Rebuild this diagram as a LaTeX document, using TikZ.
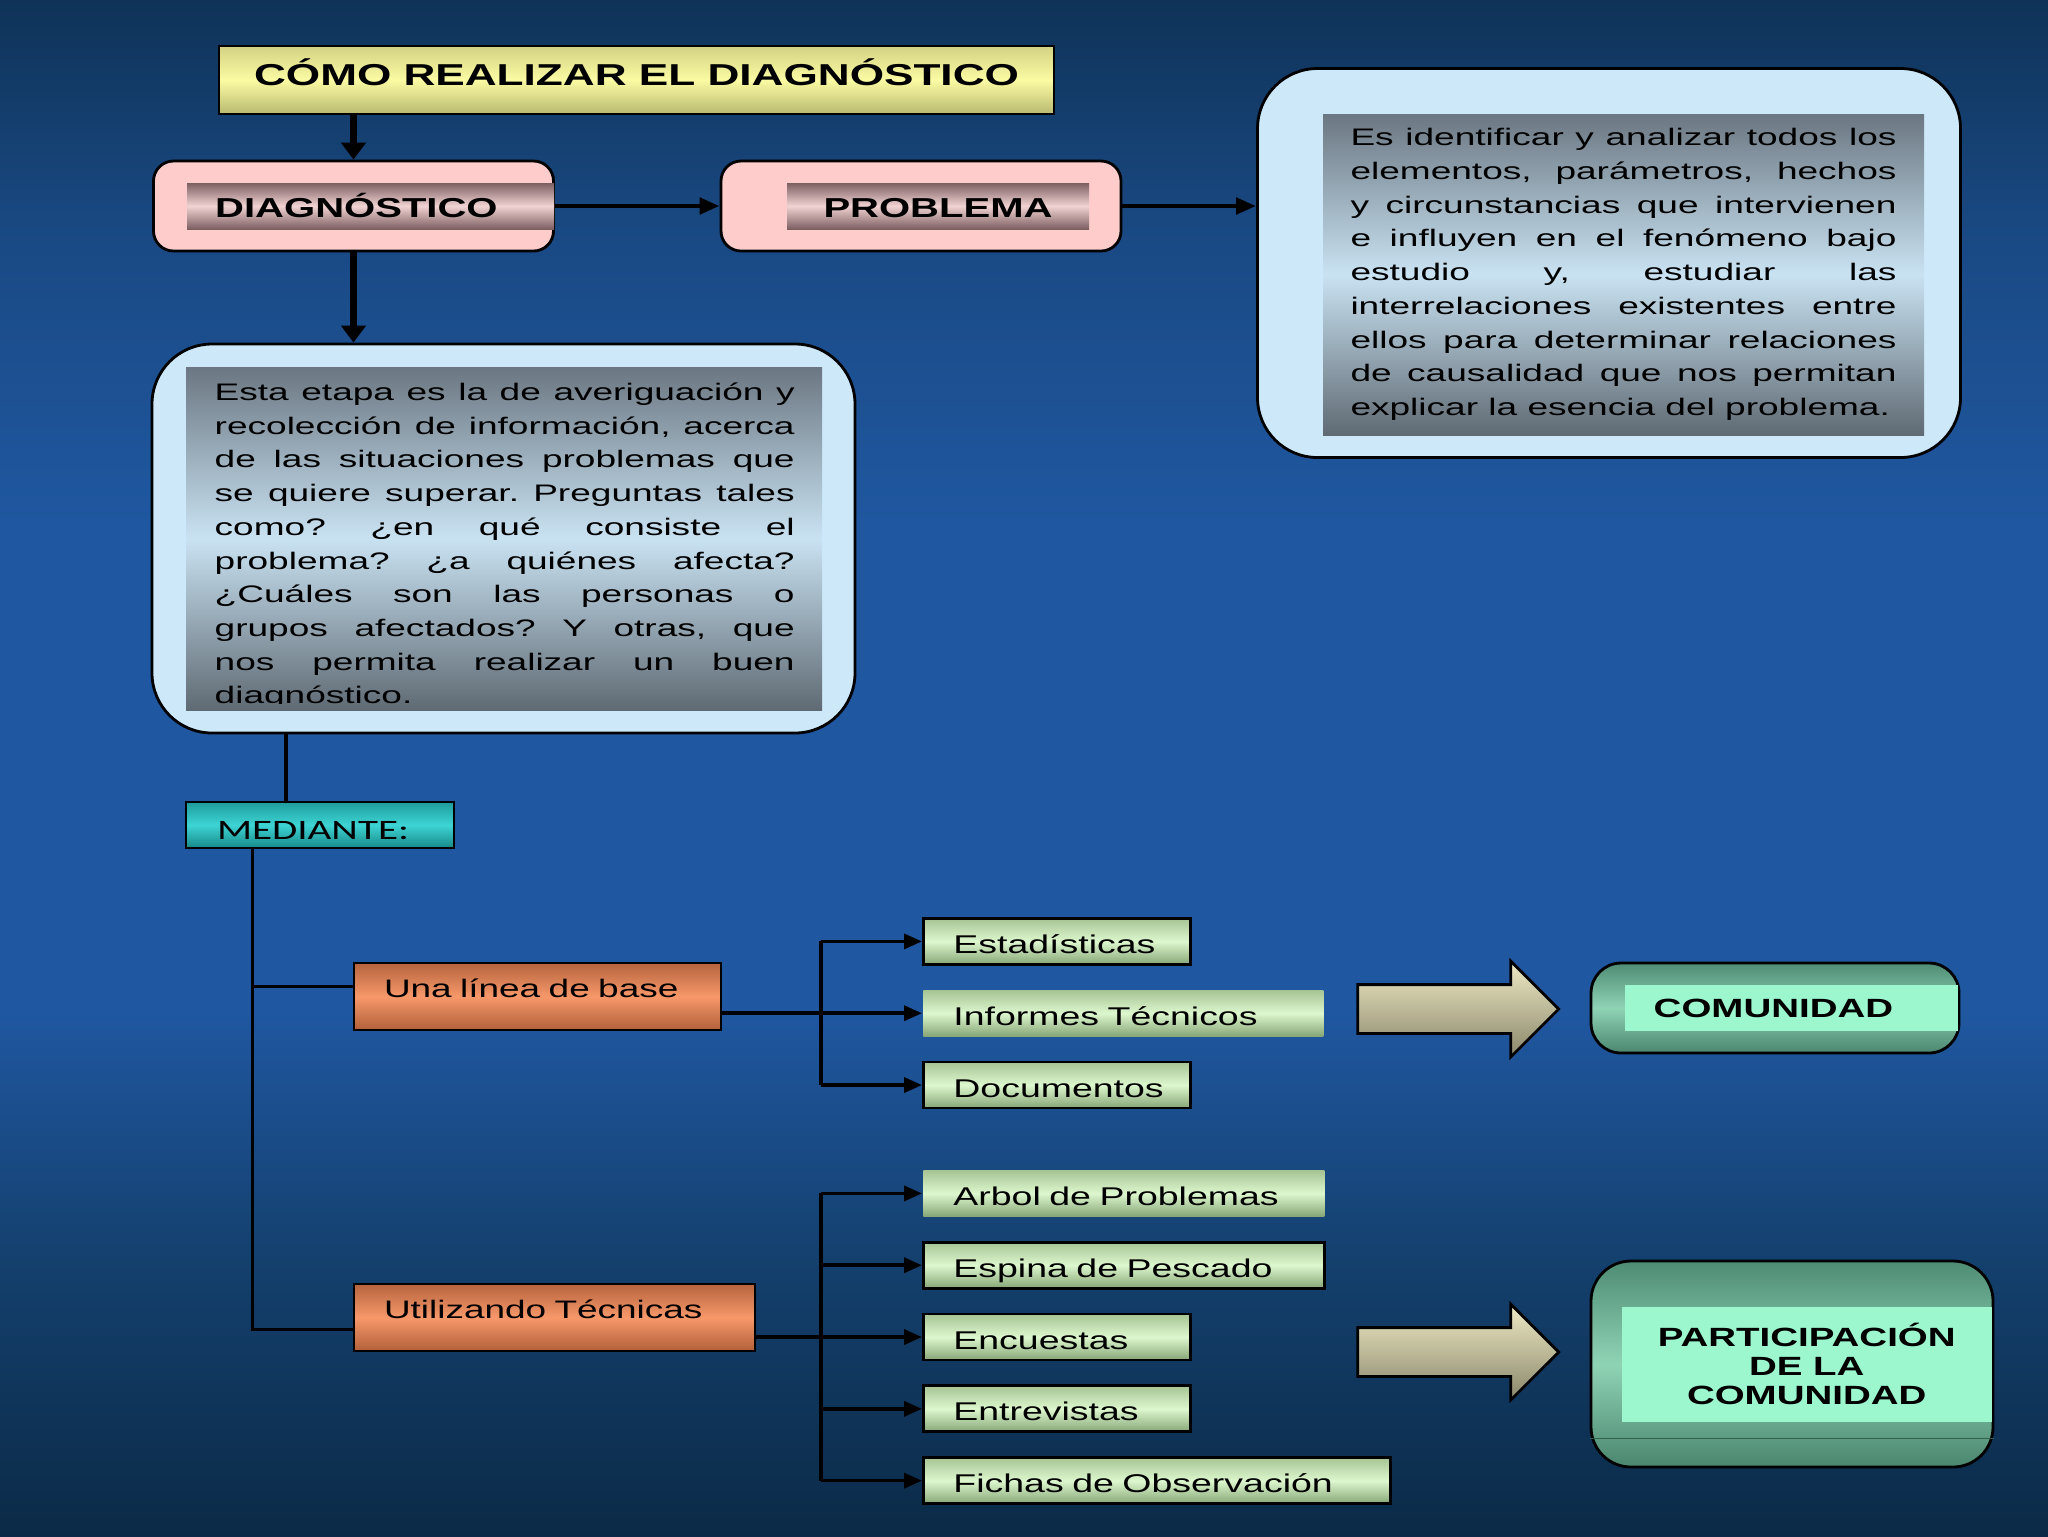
\documentclass[tikz,border=0pt]{standalone}
\usepackage{fontspec}
\setmainfont{Liberation Sans}
\newfontfamily\wfont[FakeStretch=1.46]{Liberation Sans}
\newfontfamily\pfont[FakeStretch=1.55]{Liberation Sans}
\newfontfamily\mfont[FakeStretch=1.46]{Carlito}
\usetikzlibrary{arrows.meta,positioning,calc,shapes.arrows}

\definecolor{bgtop}{HTML}{0F3358}
\definecolor{bgup}{HTML}{1A4A85}
\definecolor{bgmid}{HTML}{1F57A0}
\definecolor{bglow}{HTML}{14406E}
\definecolor{bgbot}{HTML}{0B2A47}
\definecolor{yelA}{HTML}{D2D283}
\definecolor{yelB}{HTML}{FBFBA4}
\definecolor{yelC}{HTML}{B9B970}
\definecolor{pinkfill}{HTML}{FFCCCC}
\definecolor{mauveA}{HTML}{7D5F62}
\definecolor{mauveB}{HTML}{F2D3D3}
\definecolor{skyfill}{HTML}{CDE9F9}
\definecolor{grayA}{HTML}{6B7782}
\definecolor{grayB}{HTML}{C9E2F2}
\definecolor{grayC}{HTML}{5F6A73}
\definecolor{tealA}{HTML}{1E9C9C}
\definecolor{tealB}{HTML}{3ED4D4}
\definecolor{tealC}{HTML}{188888}
\definecolor{orA}{HTML}{B5643E}
\definecolor{orB}{HTML}{F7986A}
\definecolor{orC}{HTML}{B2603A}
\definecolor{grnA}{HTML}{A6C494}
\definecolor{grnB}{HTML}{DDF7CE}
\definecolor{grnC}{HTML}{86A676}
\definecolor{comA}{HTML}{4E8C74}
\definecolor{comB}{HTML}{8FD3B5}
\definecolor{comC}{HTML}{4A866E}
\definecolor{aqua}{HTML}{9CF7CF}
\definecolor{arrA}{HTML}{EEEAC4}
\definecolor{arrB}{HTML}{8A876C}

\pgfdeclareverticalshading{bgshade}{100bp}{color(0bp)=(bgbot); color(25bp)=(bgbot); color(34bp)=(bglow); color(42bp)=(bgmid); color(58bp)=(bgmid); color(67bp)=(bgup); color(75bp)=(bgtop); color(100bp)=(bgtop)}

\newcommand\loosepar{\tolerance=10000\relax\hyphenpenalty=10000\relax\frenchspacing}

\begin{document}
\begin{tikzpicture}[
    x=0.1mm, y=-0.1mm,
    node distance=2.3mm,
    every node/.style={inner sep=0pt},
    titlebox/.style={rectangle, draw=black, thick, top color=yelA, bottom color=yelC, middle color=yelB,
                     minimum width=83.5mm, text height=3.9mm, text depth=2.9mm,
                     font=\wfont\bfseries\fontsize{8.6}{10}\selectfont},
    pinkbox/.style={rectangle, rounded corners=2mm, draw=black, thick, fill=pinkfill,
                    minimum width=40mm, minimum height=9mm},
    band/.style={rectangle, top color=mauveA, bottom color=mauveA, middle color=mauveB,
                 text height=3.4mm, text depth=1.2mm, font=\wfont\bfseries\fontsize{7.8}{9}\selectfont},
    bluebox/.style={rectangle, rounded corners=6mm, draw=black, thick, fill=skyfill,
                    minimum width=70.3mm, minimum height=38.9mm},
    graybox/.style={rectangle, top color=grayA, bottom color=grayC, middle color=grayB},
    para/.style={text width=#1, align=justify,
                 font=\pfont\fontsize{6.8}{9.6}\selectfont\loosepar},
    medbox/.style={rectangle, draw=black, thick, top color=tealA, bottom color=tealC, middle color=tealB,
                   text width=20.6mm, align=left, inner xsep=3.1mm, text height=3.7mm, text depth=0.9mm,
                   font=\mfont\fontsize{8}{9}\selectfont},
    orangebox/.style={rectangle, draw=black, thick, top color=orA, bottom color=orC, middle color=orB,
                      text width=#1, align=left, inner xsep=3mm, text height=3.4mm, text depth=3.3mm,
                      font=\wfont\fontsize{7.2}{8.5}\selectfont},
    greenbox/.style={rectangle, draw=black, thick, top color=grnA, bottom color=grnC, middle color=grnB,
                     text width=#1, align=left, inner xsep=3mm, text height=3.5mm, text depth=1.1mm,
                     font=\wfont\fontsize{7.3}{8.5}\selectfont},
    greenglow/.style={greenbox=#1, draw=none},
    commbox/.style={rectangle, draw=black, thick, top color=comA, bottom color=comC, middle color=comB},
    commband/.style={rectangle, fill=aqua, font=\wfont\bfseries\fontsize{7.5}{8.25}\selectfont},
    bigarrow/.style={single arrow, draw=black, thick, top color=arrA, bottom color=arrB,
                     minimum height=20.1mm, inner xsep=0pt, inner ysep=2.3mm, single arrow head extend=2.35mm},
    heavy/.style={line width=2pt, -{Triangle[width=2.4mm,length=1.7mm]}},
    medium/.style={line width=1.4pt, -{Triangle[width=1.6mm,length=2mm]}},
    link/.style={line width=1pt},
    flow/.style={line width=1pt, -{Triangle[width=1.5mm,length=1.8mm]}}
]
% background
\shade[shading=bgshade] (0,0) rectangle (2048,1536);

% top row
\node[titlebox] (title) at (636.5,80) {CÓMO REALIZAR EL DIAGNÓSTICO};
\node[pinkbox] (diag) at (353.5,206) {};
\node[band, text width=31.1mm, align=left, inner xsep=2.8mm, anchor=east] (diagband) at (diag.east) {DIAGNÓSTICO};
\node[pinkbox] (prob) at (921,206) {};
\node[band, minimum width=30.2mm] (probband) at (938,206) {PROBLEMA};

% definition boxes
\node[bluebox] (rbox) at (1609,263) {};
\node[graybox, minimum width=60.1mm, minimum height=32.1mm, para=54.6mm] (rtext) at (1623.5,274.5) {Es identificar y analizar todos los\linebreak
elementos, parámetros, hechos\linebreak
y circunstancias que intervienen\linebreak
e influyen en el fenómeno bajo\linebreak
estudio y, estudiar las\linebreak
interrelaciones existentes entre\linebreak
ellos para determinar relaciones\linebreak
de causalidad que nos permitan\linebreak
explicar la esencia del problema.};

\node[bluebox] (lbox) at (503.5,538.5) {};
\node[graybox, minimum width=63.6mm, minimum height=34.3mm] (lgray) at (504,538.5) {};
\begin{scope}
\clip (lgray.north west) rectangle ([yshift=0.7mm]lgray.south east);
\node[para=58mm, anchor=north west] (ltext) at (214,382) {Esta etapa es la de averiguación y\linebreak
recolección de información, acerca\linebreak
de las situaciones problemas que\linebreak
se quiere superar. Preguntas tales\linebreak
como? ¿en qué consiste el\linebreak
problema? ¿a quiénes afecta?\linebreak
¿Cuáles son las personas o\linebreak
grupos afectados? Y otras, que\linebreak
nos permita realizar un buen\linebreak
diagnóstico.};
\end{scope}

% methods
\node[medbox] (med) at (320,825) {MEDIANTE:};
\node[orangebox=30.7mm] (base) at (537.5,996.5) {Una línea de base};
\node[orangebox=34.1mm] (tec) at (554.5,1317.5) {Utilizando Técnicas};

\node[greenbox=20.7mm, anchor=north west] (est) at (922,917) {Estadísticas};
\node[greenglow=34mm, below=of est.south west, anchor=north west] (inf) {Informes Técnicos};
\node[greenbox=20.7mm, below=of inf.south west, anchor=north west] (doc) {Documentos};

\node[greenglow=34.1mm, anchor=north west] (arb) at (922,1169) {Arbol de Problemas};
\node[greenbox=34.1mm, below=of arb.south west, anchor=north west] (esp) {Espina de Pescado};
\node[greenbox=20.7mm, below=of esp.south west, anchor=north west] (enc) {Encuestas};
\node[greenbox=20.7mm, below=of enc.south west, anchor=north west] (ent) {Entrevistas};
\node[greenbox=40.7mm, below=of ent.south west, anchor=north west] (fic) {Fichas de Observación};

% results
\node[bigarrow] (arr1) at (1446,1009) {};
\node[bigarrow] (arr2) at (1446,1352) {};
\node[commbox, rounded corners=3mm, minimum width=36.8mm, minimum height=9mm] (comm) at (1775,1008) {};
\node[commband, minimum width=33.3mm, minimum height=4.6mm, text width=27.5mm, align=left, inner xsep=2.9mm,
      anchor=east] (commtxt) at ([xshift=-0.2mm]comm.east) {COMUNIDAD};
\node[commbox, rounded corners=4mm, minimum width=40.2mm, minimum height=20.6mm] (part) at (1792,1364) {};
\node[commband, minimum width=37mm, minimum height=11.5mm, align=center, anchor=east] (parttxt)
      at ([xshift=-0.2mm]part.east) {PARTICIPACIÓN\\DE LA\\COMUNIDAD};
\draw[comC!70!black] ([yshift=3mm]part.south west) -- ([yshift=3mm]part.south east);

% connectors
\draw[heavy] (title.south -| diag.north) -- (diag.north);
\draw[heavy] (diag.south) -- (diag.south |- lbox.north);
\draw[medium] (diag.east) -- (prob.west);
\draw[medium] (prob.east) -- (prob.east -| rbox.west);
\draw[link] ([xshift=-3.4mm]med.north |- lbox.south) -- ([xshift=-3.4mm]med.north);
\coordinate (trunk) at ($(med.south west)!0.25!(med.south east)$);
\draw[link] (trunk) |- ([yshift=1mm]base.west);
\draw[link] (trunk) |- ([yshift=-1.2mm]tec.west);
\coordinate (bar1) at (821,0);
\draw[link] (bar1 |- est.west) -- (bar1 |- doc.west);
\draw[flow] (base.east |- inf.west) -- (inf.west);
\foreach \n in {est,doc} \draw[flow] (bar1 |- \n.west) -- (\n.west);
\draw[link] (bar1 |- arb.west) -- (bar1 |- fic.west);
\draw[flow] (tec.east |- enc.west) -- (enc.west);
\foreach \n in {arb,esp,ent,fic} \draw[flow] (bar1 |- \n.west) -- (\n.west);
\end{tikzpicture}
\end{document}
